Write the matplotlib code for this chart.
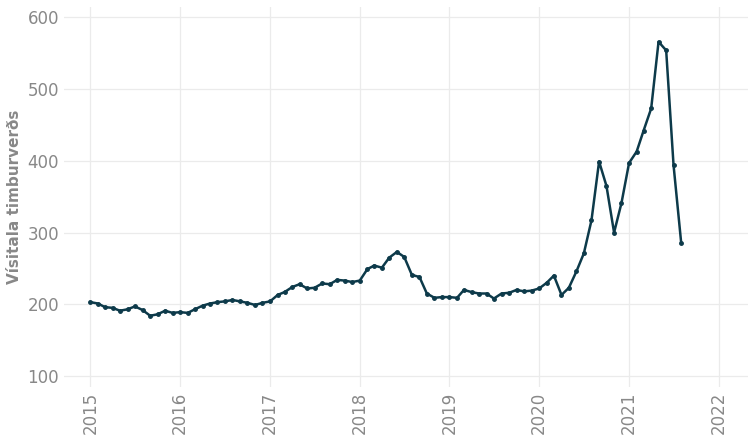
import matplotlib
matplotlib.use("Agg")
import matplotlib.pyplot as plt
import numpy as np
import pandas as pd

# monthly index values, Jan 2015 - Aug 2021
values = [
    203, 201, 196, 195, 191, 193, 197, 192, 184, 186, 191, 188,  # 2015
    189, 188, 193, 198, 201, 203, 204, 206, 204, 202, 199, 202,  # 2016
    204, 213, 217, 224, 228, 222, 223, 229, 228, 234, 233, 231,  # 2017
    233, 249, 254, 251, 265, 273, 266, 241, 238, 215, 209, 210,  # 2018
    210, 209, 220, 217, 215, 215, 208, 215, 216, 220, 218, 219,  # 2019
    222, 230, 240, 213, 223, 246, 271, 317, 399, 365, 300, 341,  # 2020
    397, 413, 442, 473, 566, 554, 394, 286,                      # 2021
]
dates = pd.date_range("2015-01-01", periods=len(values), freq="MS")
years = [pd.Timestamp(f"{y}-01-01") for y in range(2015, 2023)]
yticks = [100, 200, 300, 400, 500, 600]

color = "#0d3a4a"
fig, ax = plt.subplots(figsize=(7.52, 4.42), dpi=100)
ax.plot(dates, values, color=color, lw=1.8, marker="o", ms=2.5)

ax.set_xticks(years)
ax.set_xticklabels([str(d.year) for d in years], rotation=90, fontsize=12, color="#888888")
ax.set_yticks(yticks)
ax.set_yticklabels([str(v) for v in yticks], fontsize=12, color="#888888")
ax.set_ylim(85, 615)
ax.set_xlim(pd.Timestamp("2014-09-15"), pd.Timestamp("2022-05-01"))
ax.set_ylabel("Vísitala timburverðs", fontsize=11, color="#888888",
              fontweight="bold", labelpad=4)
ax.grid(True, color="#ebebeb", lw=0.9)
ax.tick_params(length=0)
for s in ax.spines.values():
    s.set_visible(False)

fig.subplots_adjust(left=0.085, right=0.995, top=0.985, bottom=0.125)
fig.savefig("out.png", dpi=100)
